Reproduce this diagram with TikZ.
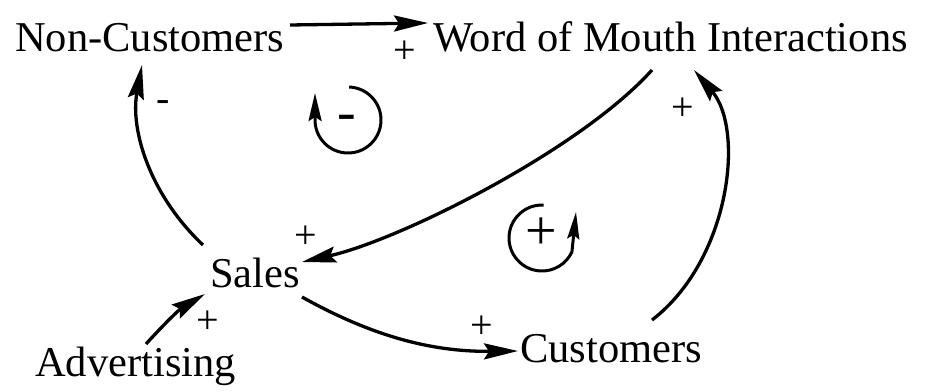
\documentclass[tikz,border=0pt]{standalone}
\usepackage{fontspec}
\setmainfont{Liberation Serif}
\usetikzlibrary{arrows.meta}
\begin{document}
\begin{tikzpicture}[x=1pt,y=-1pt,
  lbl/.style={font=\fontsize{42.5}{46}\selectfont, inner sep=0pt, anchor=base west},
  sgn/.style={font=\fontsize{40}{42}\selectfont, inner sep=0pt},
  bigsgn/.style={font=\fontsize{56}{58}\selectfont, inner sep=0pt},
  link/.style={line width=3.3pt, -{Stealth[length=34pt,width=16pt,inset=5pt]}},
  loopline/.style={line width=3pt}]
\useasboundingbox[fill=white] (0,0) rectangle (928,391);

% variables
\node[lbl] (nc) at (15,51) {Non-Customers};
\node[lbl] (wom) at (433,51) {Word of Mouth Interactions};
\node[lbl] (sales) at (210,287) {Sales};
\node[lbl] (adv) at (35,376) {Advertising};
\node[lbl] (cust) at (520,362) {Customers};

% causal links
\draw[link] ([shift={(275,-26)}]nc.base west) -- ([shift={(-5,-28)}]wom.base west);
\draw[link] ([shift={(219,19)}]wom.base west) .. controls +(-72,80) and +(98,-22) .. ([shift={(92,-25)}]sales.base west);
\draw[link] ([shift={(-7,-42)}]sales.base west) .. controls +(-53,-50) and +(-12,65) .. ([shift={(127,14)}]nc.base west);
\draw[link] ([shift={(132,-42)}]cust.base west) .. controls +(78,-60) and +(51,60) .. ([shift={(261,19)}]wom.base west);
\draw[link] ([shift={(92,10)}]sales.base west) .. controls +(68,38) and +(-88,1) .. ([shift={(-2,-11)}]cust.base west);
\draw[link] ([shift={(111,-32)}]adv.base west) .. controls +(20,-22) and +(-25,15) .. ([shift={(-5,7)}]sales.base west);

% polarities
\node[sgn] (p1) at (405,52) {+};
\node[sgn] (m1) at (163,106) {-};
\node[sgn] (p2) at (306,237) {+};
\node[sgn] (p3) at (683,109) {+};
\node[sgn] (p4) at (208,322) {+};
\node[sgn] (p5) at (482,327) {+};

% loop markers
\draw[loopline, -{Stealth[length=28pt,width=13pt,inset=4pt]}] (348,120) ++(-88:33) arc[start angle=-88, end angle=176, radius=33] -- (315,93);
\node[bigsgn] (lneg) at (347,123) {-};
\draw[loopline, -{Stealth[length=27pt,width=12pt,inset=4pt]}] (542,238) ++(-87:33) arc[start angle=-87, end angle=-335, radius=33] -- (576,212);
\node[bigsgn] (lpos) at (541,234) {+};
\end{tikzpicture}
\end{document}
